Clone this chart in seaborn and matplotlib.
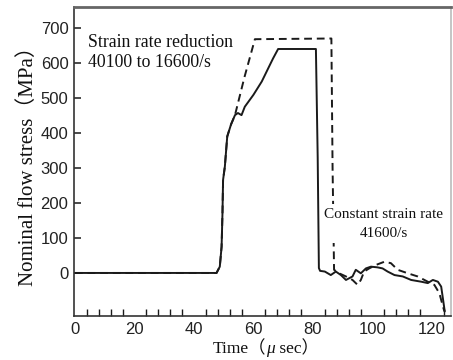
import matplotlib
matplotlib.use("Agg")
import matplotlib.pyplot as plt
import seaborn as sns
import pandas as pd
from matplotlib.ticker import MultipleLocator
from matplotlib.offsetbox import TextArea, HPacker, AnchoredOffsetbox

# ---- data (time in microseconds, stress in MPa) ----
solid_t = [0, 10, 20, 30, 40, 47.6, 48.7, 49.3, 49.6, 49.8, 50.4, 51.2, 52.5, 53.8, 54.8, 56.0, 57.1,
           60.0, 62.8, 65.5, 66.6, 68.3, 81.0, 81.6, 82.0, 82.4, 84.0, 86.0, 87.7, 89.4, 91.1, 92.2,
           93.3, 94.4, 96.1, 97.8, 99.5, 101.7, 103.4, 105.1, 107.4, 110.2, 113.0, 116.4, 118.6,
           120.3, 122.0, 123.1, 123.8, 124.3]
solid_s = [0, 0, 0, 0, 0, 0, 18, 75, 171, 266, 304, 390, 425, 451, 457, 451, 475,
           509, 547, 594, 613, 640, 640, 330, 14, 6, 4, -6, 4, -6, -20, -15,
           -10, 9, -1, 13, 18, 16, 13, 4, -6, -10, -20, -25, -29,
           -20, -25, -39, -80, -110]

dash_t = [0, 10, 20, 30, 40, 47.6, 48.7, 49.3, 49.6, 49.8, 50.4, 51.2, 52.5, 53.8, 57.0, 60.5,
          86.2, 86.6, 87.1, 88.8, 91.1, 93.3, 95.0, 96.1, 97.2, 98.9, 101.2, 104.0, 106.2, 108.5,
          111.9, 115.2, 118.6, 120.8, 122.5, 123.7, 124.2]
dash_s = [0, 0, 0, 0, 0, 0, 18, 75, 171, 266, 304, 390, 425, 451, 560, 668,
          670, 300, 9, -1, -10, -20, -34, -20, 4, 13, 23, 32, 28, 9,
          -1, -10, -25, -34, -58, -96, -110]

y_ticks = [0, 100, 200, 300, 400, 500, 600, 700]
x_ticks = [0, 20, 40, 60, 80, 100, 120]

df_solid = pd.DataFrame({"t": solid_t, "s": solid_s})
df_dash = pd.DataFrame({"t": dash_t, "s": dash_s})

sns.set_theme(style="white")
plt.rcParams["font.family"] = ["Liberation Serif", "Noto Sans CJK JP", "DejaVu Sans"]

fig = plt.figure(figsize=(4.53, 3.60), dpi=100)
ax = fig.add_axes([74 / 453, 1 - 316 / 360, (451 - 74) / 453, (316 - 7) / 360])

line_col = "#1a1a1a"
sns.lineplot(data=df_solid, x="t", y="s", ax=ax, color=line_col, linewidth=1.4,
             sort=False, estimator=None)
sns.lineplot(data=df_dash, x="t", y="s", ax=ax, color=line_col, linewidth=1.4,
             sort=False, estimator=None, linestyle=(0, (4, 2.5)))

ax.set_xlim(-0.3, 126.4)
ax.set_ylim(-123, 760)
ax.set_xticks(x_ticks)
ax.set_yticks(y_ticks)
ax.xaxis.set_minor_locator(MultipleLocator(4))
ax.tick_params(axis="x", which="major", direction="in", length=12, width=1.1, color=line_col,
               labelsize=12, pad=4)
ax.tick_params(axis="x", which="minor", direction="in", length=5, width=1.0, color=line_col,
               bottom=True)
ax.tick_params(axis="y", which="major", direction="in", length=5, width=1.1, color=line_col,
               labelsize=12, pad=4, left=True)
for lab in ax.get_xticklabels() + ax.get_yticklabels():
    lab.set_family("Liberation Sans")
    lab.set_color("#222222")

for side, sp in ax.spines.items():
    sp.set_color("#333333")
    sp.set_linewidth(1.2)
ax.spines["top"].set_color("#666666")
ax.spines["top"].set_linewidth(2.0)
ax.spines["right"].set_color("#bbbbbb")

ax.set_xlabel("")
ax.set_ylabel("Nominal flow stress（MPa）", fontsize=15, color="#111111", labelpad=2)

# x label with italic mu
fam = ["Liberation Serif", "Noto Sans CJK JP"]
parts = [
    TextArea("Time（", textprops=dict(fontsize=12.5, color="#111111", family=fam)),
    TextArea("μ", textprops=dict(fontsize=12.5, color="#111111", family=fam, style="italic")),
    TextArea(" sec）", textprops=dict(fontsize=12.5, color="#111111", family=fam)),
]
pack = HPacker(children=parts, align="baseline", pad=0, sep=0)
anch = AnchoredOffsetbox(loc="center", child=pack, frameon=False,
                         bbox_to_anchor=(266 / 453, 1 - 349 / 360),
                         bbox_transform=fig.transFigure, borderpad=0, pad=0)
fig.add_artist(anch)

ax.text(4.5, 683, "Strain rate reduction\n40100 to 16600/s", fontsize=12.8, color="#111111",
        ha="left", va="top", linespacing=1.2)
ax.text(103.8, 141, "Constant strain rate\n41600/s", fontsize=11, color="#111111",
        ha="center", va="center", linespacing=1.6,
        bbox=dict(facecolor="white", edgecolor="none", pad=2.5))

fig.savefig("out.png", dpi=100)
